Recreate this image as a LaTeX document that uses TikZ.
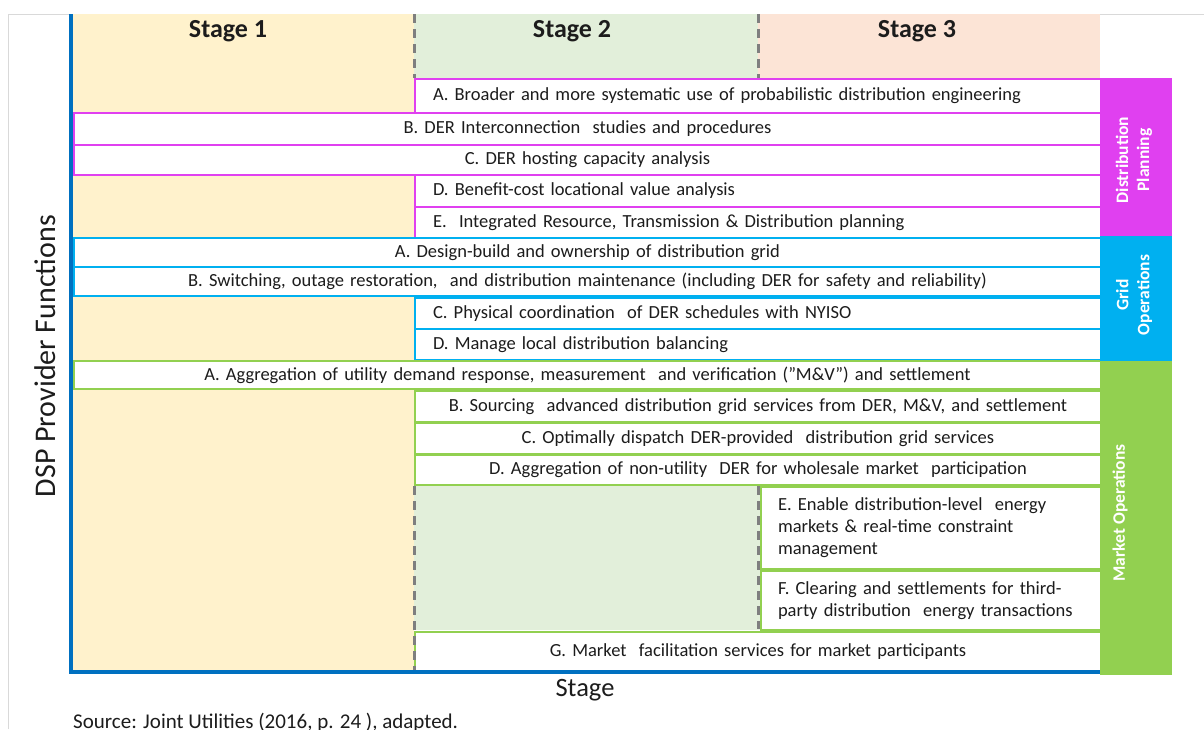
\documentclass[tikz,border=0pt]{standalone}
\usepackage{fontspec}
\setmainfont{Carlito}
\definecolor{dpcol}{HTML}{E040F0}
\definecolor{gocol}{HTML}{00B0F0}
\definecolor{mocol}{HTML}{92D050}
\definecolor{axcol}{HTML}{0070C0}
\definecolor{onecol}{HTML}{FFF2CC}
\definecolor{twocol}{HTML}{E2EFDA}
\definecolor{threecol}{HTML}{FCE4D6}
\definecolor{dashcol}{HTML}{7F7F7F}
\definecolor{framecol}{HTML}{D9D9D9}
\definecolor{txtcol}{HTML}{1C1C1C}

\begin{document}
\begin{tikzpicture}[x=1pt, y=-1pt,
	every node/.style={text=txtcol, inner sep=0pt},
	row/.style={draw, line width=2pt, fill=white, anchor=north west, inner xsep=18pt, font=\fontsize{18.5}{22}\selectfont},
	dprow/.style={row, draw=dpcol},
	gorow/.style={row, draw=gocol},
	morow/.style={row, draw=mocol},
	wide/.style={text width=991pt, align=center},
	half/.style={text width=650pt, align=center},
	narrow/.style={text width=306pt, inner xsep=17pt, align=left},
	bar/.style={anchor=north west, minimum width=72pt},
	side/.style={text=white, rotate=90, align=center, font=\fontsize{17.5}{21}\bfseries\selectfont},
	stagelab/.style={font=\fontsize{26}{30}\bfseries\selectfont},
	stageline/.style={draw=dashcol, line width=3pt, dash pattern=on 9pt off 6pt}]
\useasboundingbox (0,0) rectangle (1204,729);

\draw[framecol, line width=1pt] (8,729) -- (8,14) -- (1204,14);

\fill[onecol] (71,14) rectangle (414,672);
\fill[twocol] (414,14) rectangle (758,78);
\fill[threecol] (758,14) rectangle (1100,78);
\fill[twocol] (414,486) rectangle (760,630);

\node[stagelab] (st1) at (228,31) {Stage 1};
\node[stagelab] (st2) at (572,31) {Stage 2};
\node[stagelab] (st3) at (917,31) {Stage 3};

\node[dprow, half, align=left, minimum height=34pt] (dpA) at (414,78) {A. Broader and more systematic use of probabilistic distribution engineering};
\node[dprow, wide, minimum height=32pt] (dpB) at (73,112) {B. DER Interconnection\ \ studies and procedures};
\node[dprow, wide, minimum height=30pt] (dpC) at (73,144) {C. DER hosting capacity analysis};
\node[dprow, half, align=left, minimum height=32pt] (dpD) at (414,174) {D. Benefit-cost locational value analysis};
\node[dprow, half, align=left, minimum height=31pt] (dpE) at (414,206) {E.\ \ Integrated Resource, Transmission \& Distribution planning};

\node[gorow, wide, minimum height=29pt] (goA) at (73,237) {A. Design-build and ownership of distribution grid};
\node[gorow, wide, minimum height=29pt] (goB) at (73,266) {B. Switching, outage restoration,\ \ and distribution maintenance (including DER for safety and reliability)};
\node[gorow, half, align=left, minimum height=31pt] (goC) at (414,297) {C. Physical coordination\ \ of DER schedules with NYISO};
\node[gorow, half, align=left, minimum height=31pt] (goD) at (414,328) {D. Manage local distribution balancing};

\node[morow, wide, minimum height=28pt] (moA) at (73,360) {A. Aggregation of utility demand response, measurement\ \ and verification ("M\&V") and settlement};
\node[morow, half, minimum height=31pt] (moB) at (414,390) {B. Sourcing\ \ advanced distribution grid services from DER, M\&V, and settlement};
\node[morow, half, minimum height=31pt] (moC) at (414,422) {C. Optimally dispatch DER-provided\ \ distribution grid services};
\node[morow, half, minimum height=30pt] (moD) at (414,454) {D. Aggregation of non-utility\ \ DER for wholesale market\ \ participation};
\node[morow, narrow, minimum height=82pt] (moE) at (760,486) {E. Enable distribution-level\ \ energy\\markets \& real-time constraint\\management};
\node[morow, narrow, minimum height=59pt] (moF) at (760,570) {F. Clearing and settlements for third-\\party distribution\ \ energy transactions};
\node[morow, half, minimum height=40pt] (moG) at (414,631) {G. Market\ \ facilitation services for market participants};

\draw[stageline] (414,14) -- (414,78);
\draw[stageline] (758,14) -- (758,78);
\draw[stageline] (414,486) -- (414,670);
\draw[stageline] (758,486) -- (758,629);

\node[bar, fill=dpcol, minimum height=158pt] (dpbar) at (1100,78) {};
\node[bar, fill=gocol, minimum height=125pt] (gobar) at (1100,236) {};
\node[bar, fill=mocol, minimum height=314pt] (mobar) at (1100,361) {};
\node[side] (dplab) at (1134,160) {Distribution\\Planning};
\node[side] (golab) at (1134,295) {Grid\\Operations};
\node[side] (molab) at (1120,513) {Market Operations};

\coordinate (axtop) at (71,14);
\coordinate (origin) at (71,672);
\coordinate (axend) at (1100,672);
\draw[axcol, line width=4pt] (axtop) -- (origin) -- (axend);

\node[rotate=90, font=\fontsize{30}{34}\selectfont] (ylab) at (45,356) {DSP Provider Functions};
\node[font=\fontsize{26.5}{30}\selectfont] (xlab) at (585,690) {Stage};
\node[anchor=base west, font=\fontsize{21}{24}\selectfont] (src) at (73,728) {Source: Joint Utilities (2016, p. 24 ), adapted.};
\end{tikzpicture}
\end{document}
